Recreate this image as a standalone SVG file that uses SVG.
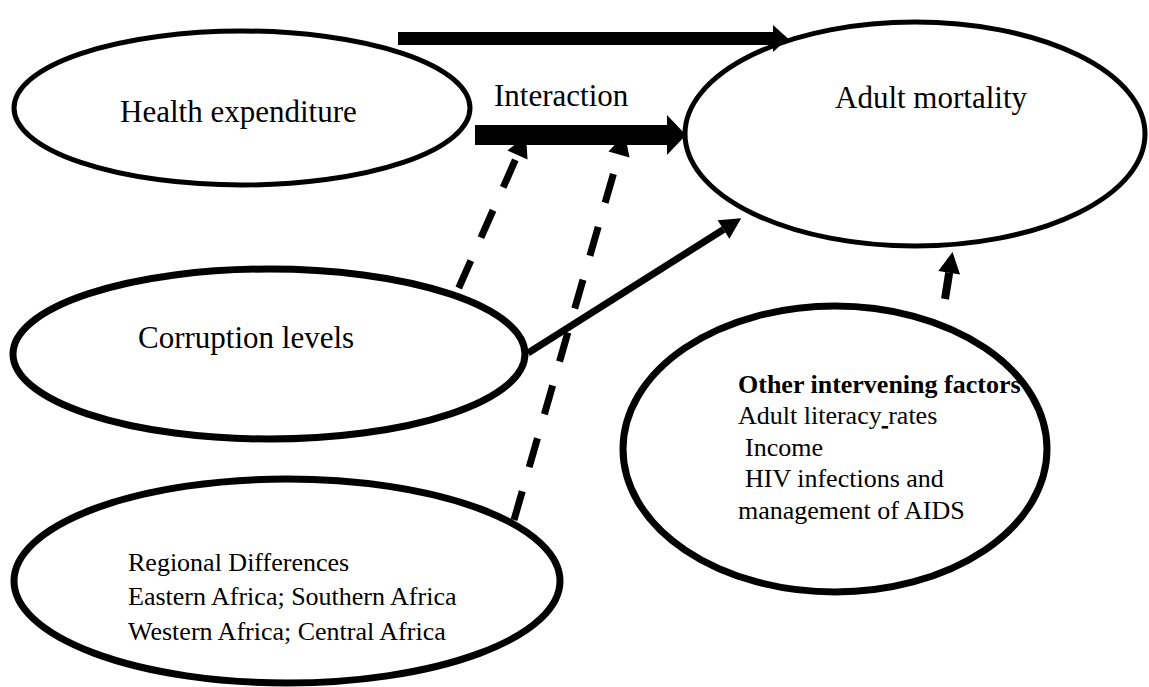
<svg xmlns="http://www.w3.org/2000/svg" width="1149" height="687" viewBox="0 0 1149 687">
  <style>
    .node { fill: #ffffff; stroke: #000000; }
    .thin { stroke-width: 5; }
    .thick { stroke-width: 7; }
    .label { font-family: "Liberation Serif", "Times New Roman", serif; fill: #000000; }
    .big { font-size: 31px; }
    .small { font-size: 26px; }
    .edge { fill: none; stroke: #000000; stroke-linecap: butt; }
    .dash { stroke-width: 7; stroke-dasharray: 30 25; }
  </style>
  <defs>
    <marker id="headWide" markerUnits="userSpaceOnUse" markerWidth="40" markerHeight="60" viewBox="0 -30 40 60" refX="0" refY="0" orient="auto" overflow="visible">
      <polygon points="0,-13.5 15,0 0,13.5" fill="#000000"/>
    </marker>
    <marker id="headBold" markerUnits="userSpaceOnUse" markerWidth="40" markerHeight="60" viewBox="0 -30 40 60" refX="0" refY="0" orient="auto" overflow="visible">
      <polygon points="0,-20 19,0 0,20" fill="#000000"/>
    </marker>
    <marker id="headSmall" markerUnits="userSpaceOnUse" markerWidth="40" markerHeight="40" viewBox="0 -20 40 40" refX="0" refY="0" orient="auto" overflow="visible">
      <polygon points="0,-11 21,0 0,11" fill="#000000"/>
    </marker>
  </defs>

  <rect x="0" y="0" width="1149" height="687" fill="#ffffff"/>

  <g id="nodes">
    <g id="health-expenditure">
      <ellipse class="node thin" cx="242" cy="108" rx="228" ry="77"/>
      <text class="label big" x="120" y="122">Health expenditure</text>
    </g>
    <g id="adult-mortality">
      <ellipse class="node thin" cx="915" cy="134" rx="230" ry="112"/>
      <text class="label big" x="835" y="108">Adult mortality</text>
    </g>
    <g id="corruption-levels">
      <ellipse class="node thick" cx="269" cy="354" rx="256" ry="85"/>
      <text class="label big" x="138" y="348">Corruption levels</text>
    </g>
    <g id="regional-differences">
      <ellipse class="node thick" cx="287" cy="581" rx="273" ry="102"/>
      <text class="label small" x="128" y="571">Regional Differences</text>
      <text class="label small" x="128" y="605">Eastern Africa; Southern Africa</text>
      <text class="label small" x="128" y="640">Western Africa; Central Africa</text>
    </g>
    <g id="other-factors">
      <ellipse class="node thick" cx="835" cy="449" rx="212" ry="143"/>
      <text class="label small" x="738" y="393" font-weight="bold">Other intervening factors</text>
      <text class="label small" x="738" y="424">Adult literacy<tspan text-decoration="underline"> </tspan>rates</text>
      <text class="label small" x="745" y="456">Income</text>
      <text class="label small" x="745" y="487">HIV infections and</text>
      <text class="label small" x="738" y="519">management of AIDS</text>
    </g>
  </g>

  <g id="connectors">
    <!-- health expenditure -> adult mortality -->
    <path class="edge" d="M398,38.5 L773,38.5" stroke-width="13" marker-end="url(#headWide)"/>
    <!-- interaction arrow -->
    <path class="edge" d="M475,135 L667,135" stroke-width="20" marker-end="url(#headBold)"/>
    <!-- corruption -> interaction (moderating) -->
    <path class="edge dash" d="M458.7,288 L517.5,155" marker-end="url(#headSmall)"/>
    <!-- regional differences -> interaction (moderating) -->
    <path class="edge dash" d="M514,520 L619,154.5" marker-end="url(#headSmall)"/>
    <!-- corruption -> adult mortality -->
    <path class="edge" d="M528,353 L723.5,229.5" stroke-width="7" marker-end="url(#headSmall)"/>
    <!-- other factors -> adult mortality -->
    <path class="edge" d="M945,299 L949.2,272.7" stroke-width="8" marker-end="url(#headSmall)"/>
  </g>

  <g id="labels">
    <text class="label big" x="494" y="106">Interaction</text>
  </g>
</svg>
